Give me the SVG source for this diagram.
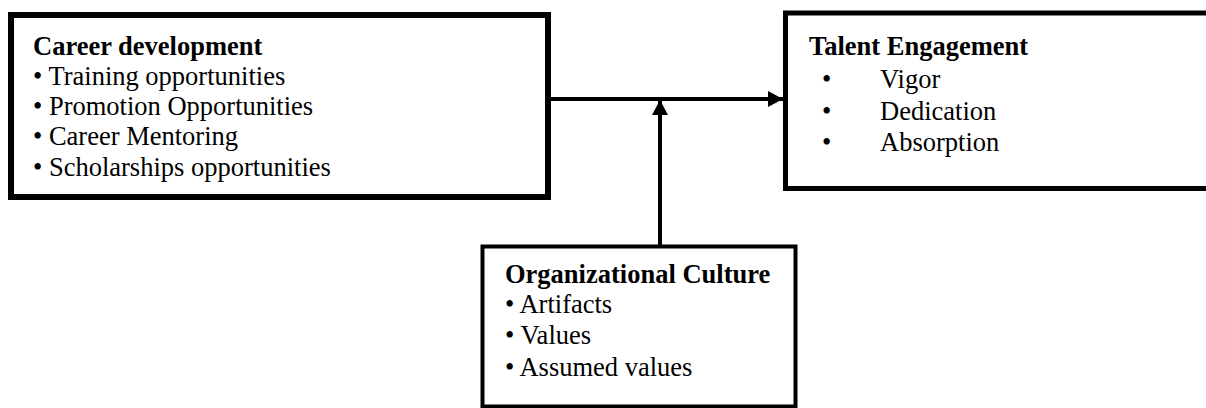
<svg xmlns="http://www.w3.org/2000/svg" width="1206" height="408" viewBox="0 0 1206 408">
<style>
.box{fill:#fff;stroke:#000}
.t{font-family:"Liberation Serif","Times New Roman",serif;font-size:26.5px;fill:#000}
.b{font-weight:bold}
.ln{stroke:#000;stroke-width:4;fill:none}
</style>
<defs>
<marker id="ah" markerUnits="userSpaceOnUse" markerWidth="16" markerHeight="16" refX="15" refY="8" orient="auto">
<path d="M0,0 L15,8 L0,16 Z" fill="#000"/>
</marker>
</defs>
<rect width="1206" height="408" fill="#fff"/>
<g id="connectors">
<line class="ln" x1="551" y1="99" x2="783" y2="99" marker-end="url(#ah)"/>
<line class="ln" x1="660" y1="245" x2="660" y2="100" marker-end="url(#ah)"/>
</g>
<g id="career">
<rect class="box" x="11" y="15" width="537" height="182" stroke-width="6"/>
<text class="t b" x="33" y="55">Career development</text>
<text class="t" x="33" y="85">• Training opportunities</text>
<text class="t" x="33" y="115">• Promotion Opportunities</text>
<text class="t" x="33" y="145">• Career Mentoring</text>
<text class="t" x="33" y="176">• Scholarships opportunities</text>
</g>
<g id="talent">
<rect class="box" x="785.5" y="13" width="430" height="175.5" stroke-width="5"/>
<text class="t b" x="809" y="55">Talent Engagement</text>
<text class="t" x="822" y="88">•</text><text class="t" x="880" y="88">Vigor</text>
<text class="t" x="822" y="120">•</text><text class="t" x="880" y="120">Dedication</text>
<text class="t" x="822" y="151">•</text><text class="t" x="880" y="151">Absorption</text>
</g>
<g id="culture">
<rect class="box" x="482.5" y="246.5" width="313" height="160" stroke-width="4"/>
<text class="t b" x="505" y="283">Organizational Culture</text>
<text class="t" x="505" y="313">• Artifacts</text>
<text class="t" x="505" y="344">• Values</text>
<text class="t" x="505" y="376">• Assumed values</text>
</g>
</svg>
